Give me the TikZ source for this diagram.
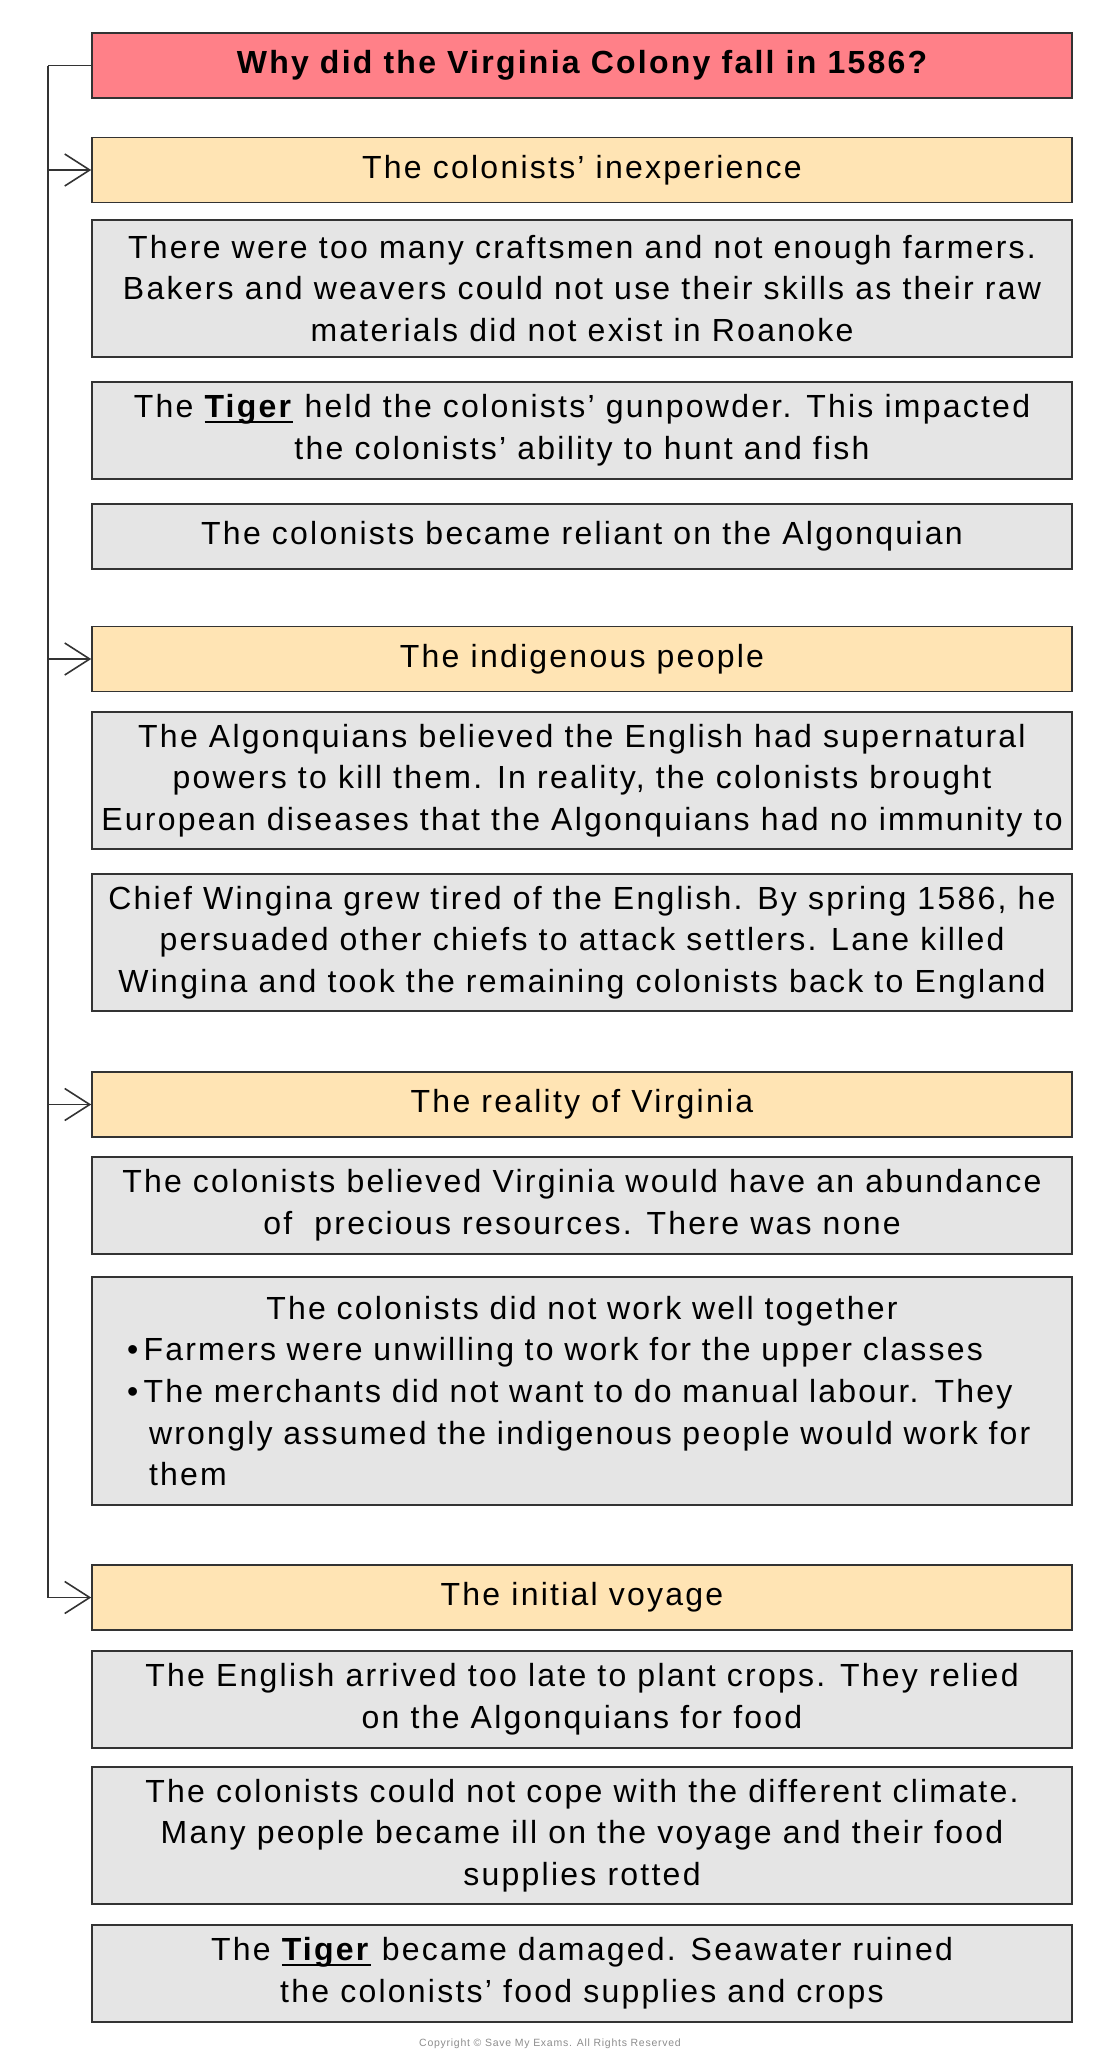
\documentclass[tikz,border=0pt]{standalone}
\usepackage{fontspec}
\setmainfont{Liberation Sans}[LetterSpace=7]
\usepackage{xcolor}
\usetikzlibrary{positioning,calc,arrows.meta}

\definecolor{headred}{HTML}{FF8088}
\definecolor{topicyellow}{HTML}{FFE4B4}
\definecolor{factgrey}{HTML}{E5E5E5}
\definecolor{edgegrey}{HTML}{333333}

\newcommand{\ship}[1]{\setbox0\hbox{\textbf{#1}}\rlap{\rule[-5pt]{\wd0}{1.6pt}}\box0\relax}

\tikzset{
  cardbox/.style={draw=edgegrey, line width=1.6pt, minimum width=980pt, inner sep=0pt,
    align=center, font=\fontsize{32}{41.7}\selectfont},
  headbox/.style={cardbox, fill=headred, minimum height=65pt, font=\fontsize{32}{41.7}\selectfont\bfseries},
  topicbox/.style={cardbox, fill=topicyellow, minimum height=65pt},
  factbox/.style={cardbox, fill=factgrey},
  railline/.style={draw=edgegrey, line width=1.6pt},
  flow/.style={railline, -{Straight Barb[length=25pt,width=32pt]}},
}

\begin{document}
\begin{tikzpicture}[x=1pt,y=1pt]
    \useasboundingbox (0,0) rectangle (1100,-2072);
    \node [headbox] (title) at (582,-65.5) {Why did the Virginia Colony fall in 1586?};
    % topic headings
    \foreach \name/\y/\topic in {o1/170/The colonists’ inexperience, o2/659/The indigenous people,
        o3/1104.5/The reality of Virginia, o4/1597.5/The initial voyage}
        \node [topicbox] (\name) at (582,-\y) {\topic};
    % facts under each heading
    \foreach \name/\y/\h/\fact in {
        g1/288.5/137/{There were too many craftsmen and not enough farmers.\\Bakers and weavers could not use their skills as their raw\\materials did not exist in Roanoke},
        g2/430.5/97/{The \ship{Tiger} held the colonists’ gunpowder. This impacted\\the colonists’ ability to hunt and fish},
        g3/536.5/65/{The colonists became reliant on the Algonquian},
        g4/780.5/137/{The Algonquians believed the English had supernatural\\powers to kill them. In reality, the colonists brought\\European diseases that the Algonquians had no immunity to},
        g5/942.5/137/{Chief Wingina grew tired of the English. By spring 1586, he\\persuaded other chiefs to attack settlers. Lane killed\\Wingina and took the remaining colonists back to England},
        g6/1205.5/97/{The colonists believed Virginia would have an abundance\\of \ precious resources. There was none},
        g8/1699.5/97/{The English arrived too late to plant crops. They relied\\on the Algonquians for food},
        g9/1835.5/137/{The colonists could not cope with the different climate.\\Many people became ill on the voyage and their food\\supplies rotted},
        g10/1973.5/97/{The \ship{Tiger} became damaged. Seawater ruined\\the colonists’ food supplies and crops}}
        \node [factbox, minimum height=\h pt] (\name) at (582,-\y) {\fact};
    \node [factbox, minimum height=228pt, text width=910pt, align=left] (g7) at (582,-1391) {%
        {\centering The colonists did not work well together\par}
        \textbullet\,Farmers were unwilling to work for the upper classes\\
        \textbullet\,The merchants did not want to do manual labour. They\\
        \hspace*{22pt}wrongly assumed the indigenous people would work for\\
        \hspace*{22pt}them};
    % rail with arrows
    \coordinate (rail top) at ($(title.west)+(-43,0)$);
    \draw [railline] (title.west) -- (rail top);
    \foreach \t in {o1,o2,o3}
        \draw [flow] (rail top |- \t.west) -- (\t.west);
    \draw [flow] (rail top) |- (o4.west);
    \node [font=\fontsize{10.5}{12}\selectfont, text=black!45] (copyright) at (550,-2044)
        {Copyright © Save My Exams. All Rights Reserved};
\end{tikzpicture}
\end{document}
